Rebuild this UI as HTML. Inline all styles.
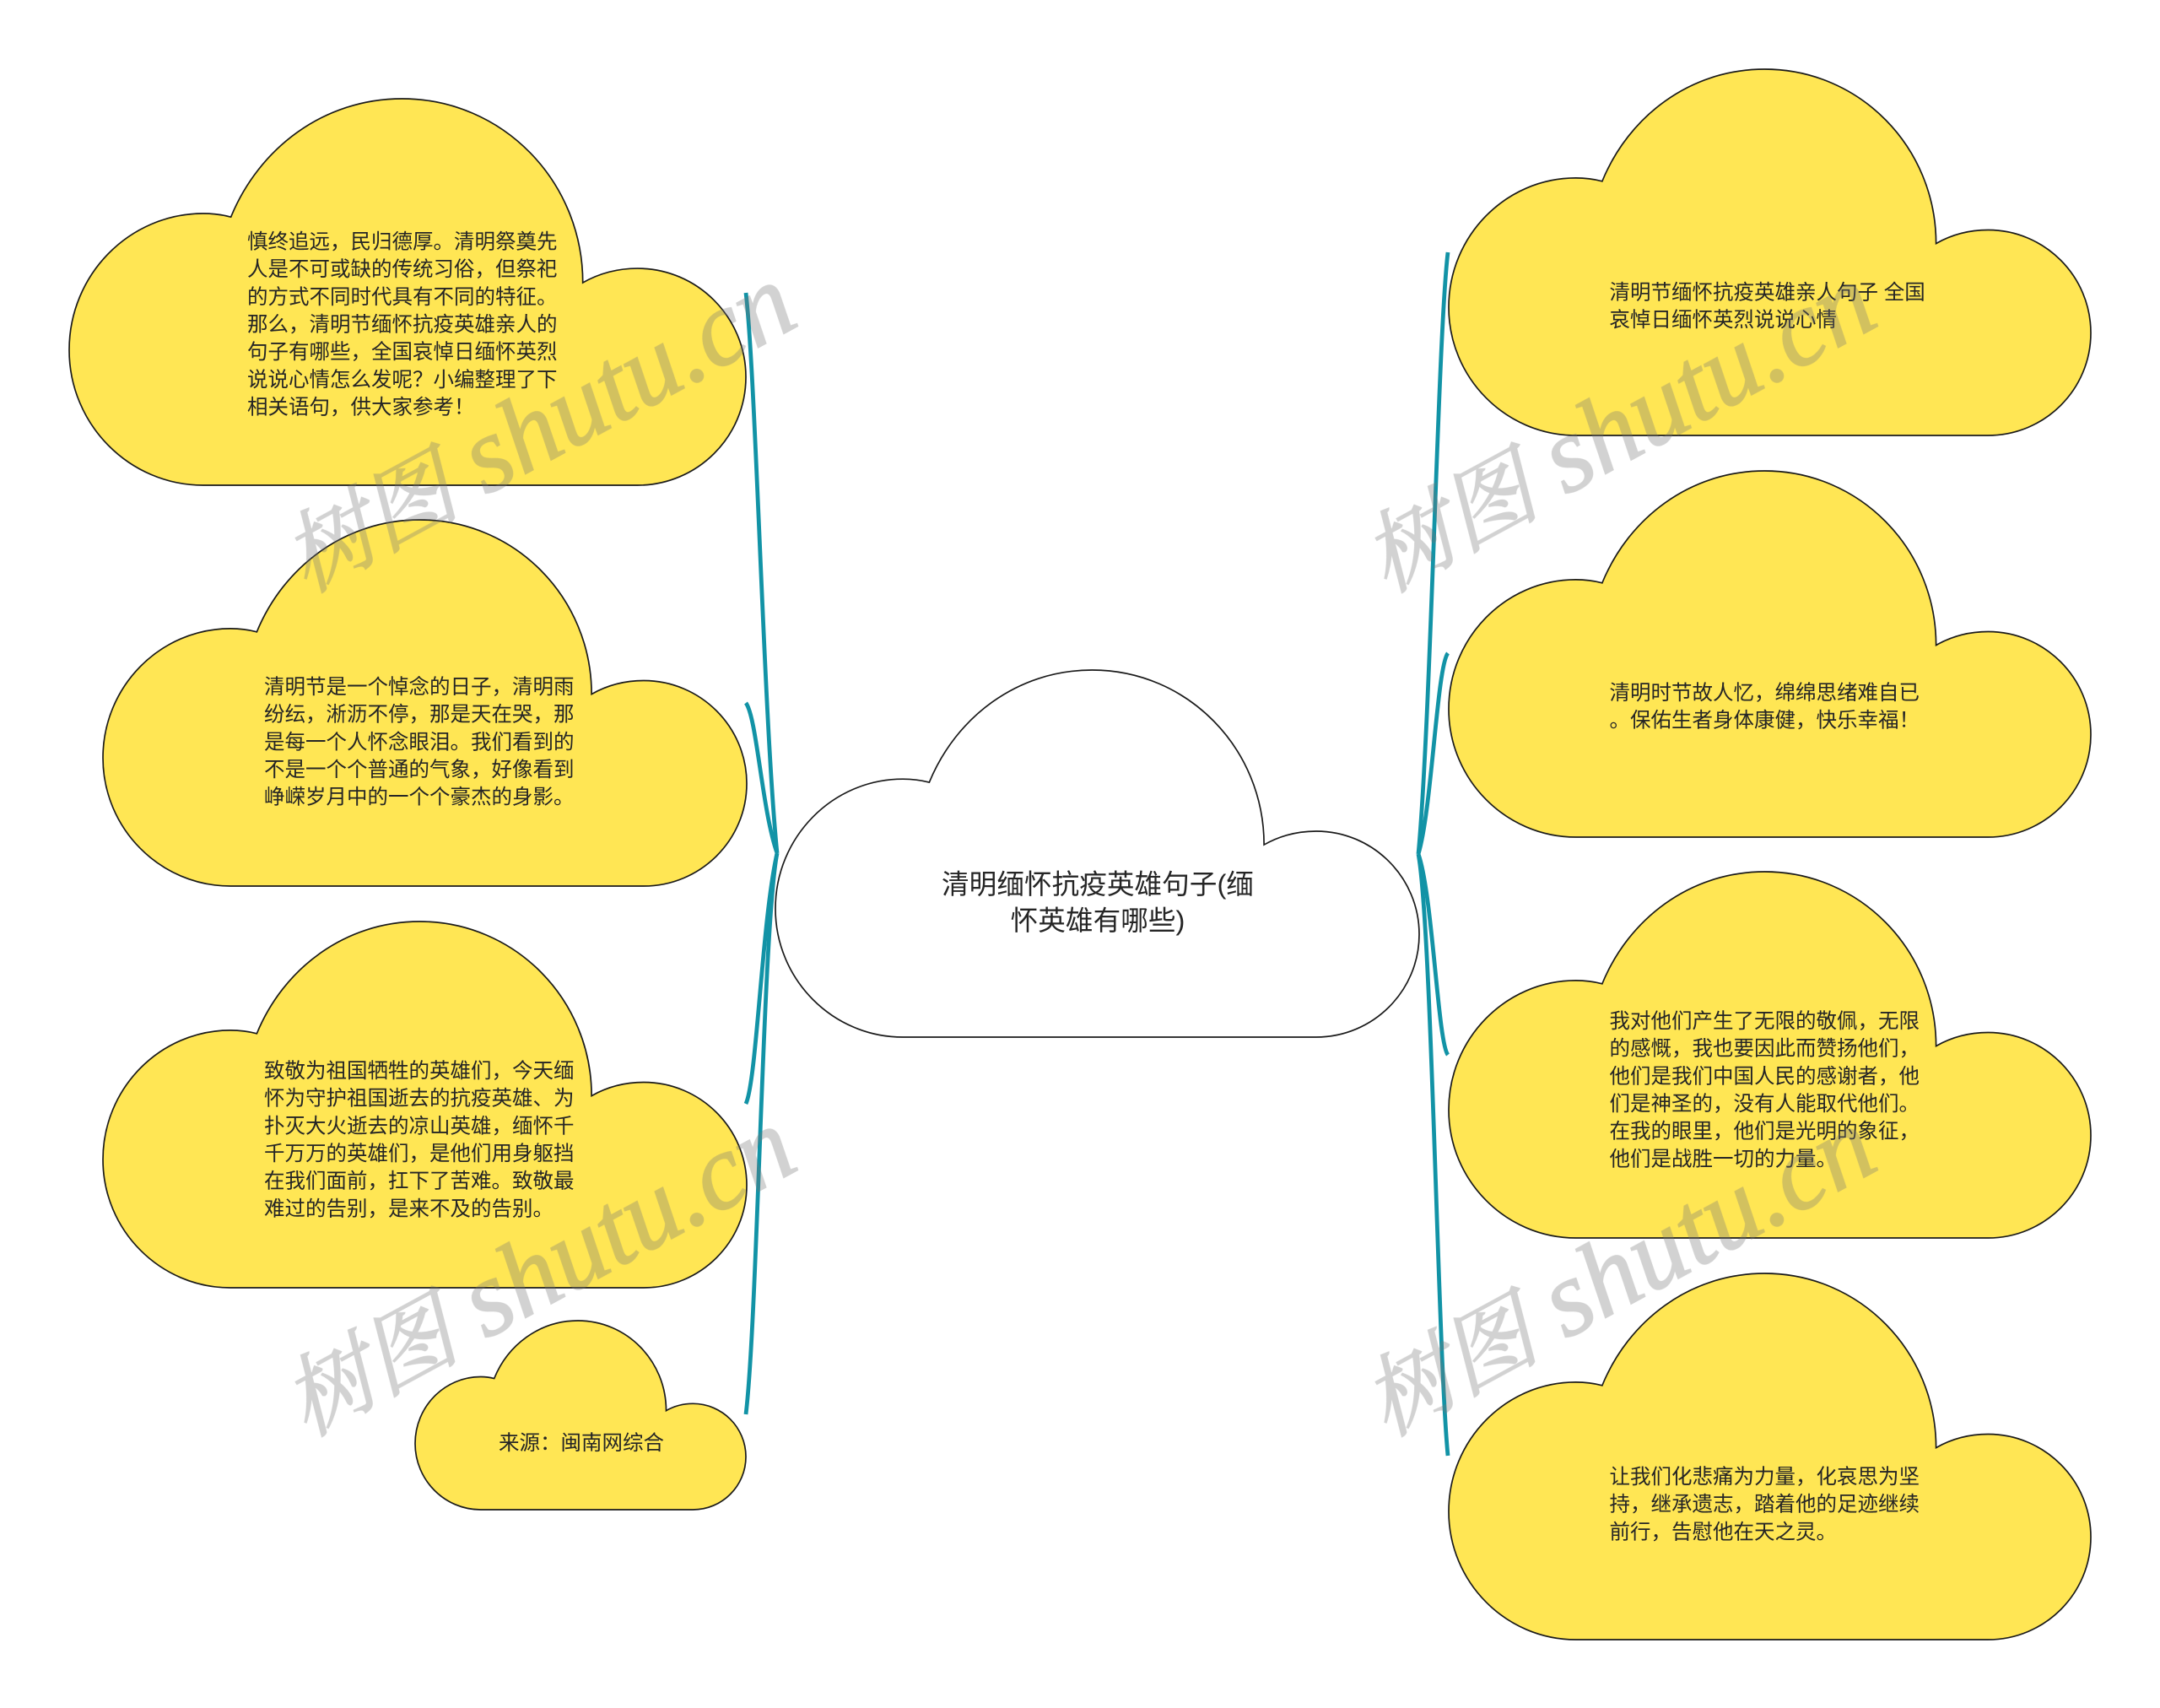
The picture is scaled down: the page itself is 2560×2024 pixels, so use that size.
<!DOCTYPE html>
<html lang="zh-CN">
<head>
<meta charset="utf-8">
<title>清明缅怀抗疫英雄句子</title>
<style>
html,body{margin:0;padding:0;background:#fff;width:2560px;height:2024px;overflow:hidden}
svg{display:block}
.t{font-family:"Liberation Sans","Noto Sans CJK SC",sans-serif;font-size:24.5px;fill:#252525}
.m{font-family:"Liberation Sans","Noto Sans CJK SC",sans-serif;font-size:32.65px;fill:#252525;text-anchor:middle}
.w{font-family:"Liberation Serif","Noto Serif CJK SC",serif;font-style:italic;fill:#787878;stroke:#787878;stroke-width:1.6;opacity:.33}
.w .a{font-size:105px}
.w .b{font-size:127px}
.c{fill:none;stroke:#1293a6;stroke-width:4.8;stroke-linecap:butt}
</style>
</head>
<body>
<svg width="2560" height="2024" viewBox="0 0 2560 2024" xmlns="http://www.w3.org/2000/svg">
<defs>
<path id="cloud" vector-effect="non-scaling-stroke" d="M198,1000 C89,1000 0,843 0,650 C0,455 89,297 198,297 C212,297 226,300 239,306 C280,130 375,0 492,0 C640,0 759,213 759,476 C780,455 808,439 840,439 C928,439 1000,565 1000,720 C1000,875 928,1000 840,1000 Z"/>
</defs>
<g class="c">
<path d="M884,347 C896,450 905,850 921,1011"/>
<path d="M884,833 C897,850 903,960 921,1011"/>
<path d="M884,1308 C897,1280 903,1090 921,1011"/>
<path d="M884,1676 C898,1560 904,1100 921,1011"/>
<path d="M1716,299 C1704,400 1696,850 1681,1012"/>
<path d="M1716,774 C1703,790 1697,960 1681,1012"/>
<path d="M1716,1250 C1704,1235 1698,1060 1681,1012"/>
<path d="M1716,1725 C1704,1600 1697,1100 1681,1012"/>
</g>
<g fill="#FFE654" stroke="#1a1a1a" stroke-width="1.7">
<use href="#cloud" transform="translate(82,117) scale(.802,.458)"/>
<use href="#cloud" transform="translate(122,616) scale(.763,.434)"/>
<use href="#cloud" transform="translate(122,1092) scale(.763,.434)"/>
<use href="#cloud" transform="translate(492,1565) scale(.392,.224)"/>
<use href="#cloud" fill="#fff" transform="translate(919,794) scale(.763,.435)"/>
<use href="#cloud" transform="translate(1717,82) scale(.761,.434)"/>
<use href="#cloud" transform="translate(1717,558) scale(.761,.434)"/>
<use href="#cloud" transform="translate(1717,1033) scale(.761,.434)"/>
<use href="#cloud" transform="translate(1717,1509) scale(.761,.434)"/>
</g>
<text class="m" x="1301" y="1059">清明缅怀抗疫英雄句子(缅</text>
<text class="m" x="1301" y="1102">怀英雄有哪些)</text>
<g class="t">
<text x="293" y="294.6">慎终追远，民归德厚。清明祭奠先</text>
<text x="293" y="327.2">人是不可或缺的传统习俗，但祭祀</text>
<text x="293" y="359.9">的方式不同时代具有不同的特征。</text>
<text x="293" y="392.6">那么，清明节缅怀抗疫英雄亲人的</text>
<text x="293" y="425.2">句子有哪些，全国哀悼日缅怀英烈</text>
<text x="293" y="457.9">说说心情怎么发呢？小编整理了下</text>
<text x="293" y="490.6">相关语句，供大家参考！</text>

<text x="313" y="822">清明节是一个悼念的日子，清明雨</text>
<text x="313" y="854.6">纷纭，淅沥不停，那是天在哭，那</text>
<text x="313" y="887.3">是每一个人怀念眼泪。我们看到的</text>
<text x="313" y="920">不是一个个普通的气象，好像看到</text>
<text x="313" y="952.6">峥嵘岁月中的一个个豪杰的身影。</text>

<text x="313" y="1277">致敬为祖国牺牲的英雄们，今天缅</text>
<text x="313" y="1309.6">怀为守护祖国逝去的抗疫英雄、为</text>
<text x="313" y="1342.3">扑灭大火逝去的凉山英雄，缅怀千</text>
<text x="313" y="1375">千万万的英雄们，是他们用身躯挡</text>
<text x="313" y="1407.6">在我们面前，扛下了苦难。致敬最</text>
<text x="313" y="1440.3">难过的告别，是来不及的告别。</text>

<text x="591" y="1718">来源：闽南网综合</text>

<text x="1907.5" y="354.5">清明节缅怀抗疫英雄亲人句子 全国</text>
<text x="1907.5" y="387">哀悼日缅怀英烈说说心情</text>

<text x="1907.5" y="829">清明时节故人忆，绵绵思绪难自已</text>
<text x="1907.5" y="861.6">。保佑生者身体康健，快乐幸福！</text>

<text x="1907.5" y="1218">我对他们产生了无限的敬佩，无限</text>
<text x="1907.5" y="1250.6">的感慨，我也要因此而赞扬他们，</text>
<text x="1907.5" y="1283.3">他们是我们中国人民的感谢者，他</text>
<text x="1907.5" y="1316">们是神圣的，没有人能取代他们。</text>
<text x="1907.5" y="1348.6">在我的眼里，他们是光明的象征，</text>
<text x="1907.5" y="1381.3">他们是战胜一切的力量。</text>

<text x="1907.5" y="1758">让我们化悲痛为力量，化哀思为坚</text>
<text x="1907.5" y="1790.6">持，继承遗志，踏着他的足迹继续</text>
<text x="1907.5" y="1823.3">前行，告慰他在天之灵。</text>
</g>
<g class="w">
<text transform="translate(363,703) rotate(-28.5)"><tspan class="a">树图</tspan><tspan class="b"> shutu.cn</tspan></text>
<text transform="translate(363,1703) rotate(-28.5)"><tspan class="a">树图</tspan><tspan class="b"> shutu.cn</tspan></text>
<text transform="translate(1643,703) rotate(-28.5)"><tspan class="a">树图</tspan><tspan class="b"> shutu.cn</tspan></text>
<text transform="translate(1643,1703) rotate(-28.5)"><tspan class="a">树图</tspan><tspan class="b"> shutu.cn</tspan></text>
</g>
</svg>
</body>
</html>
